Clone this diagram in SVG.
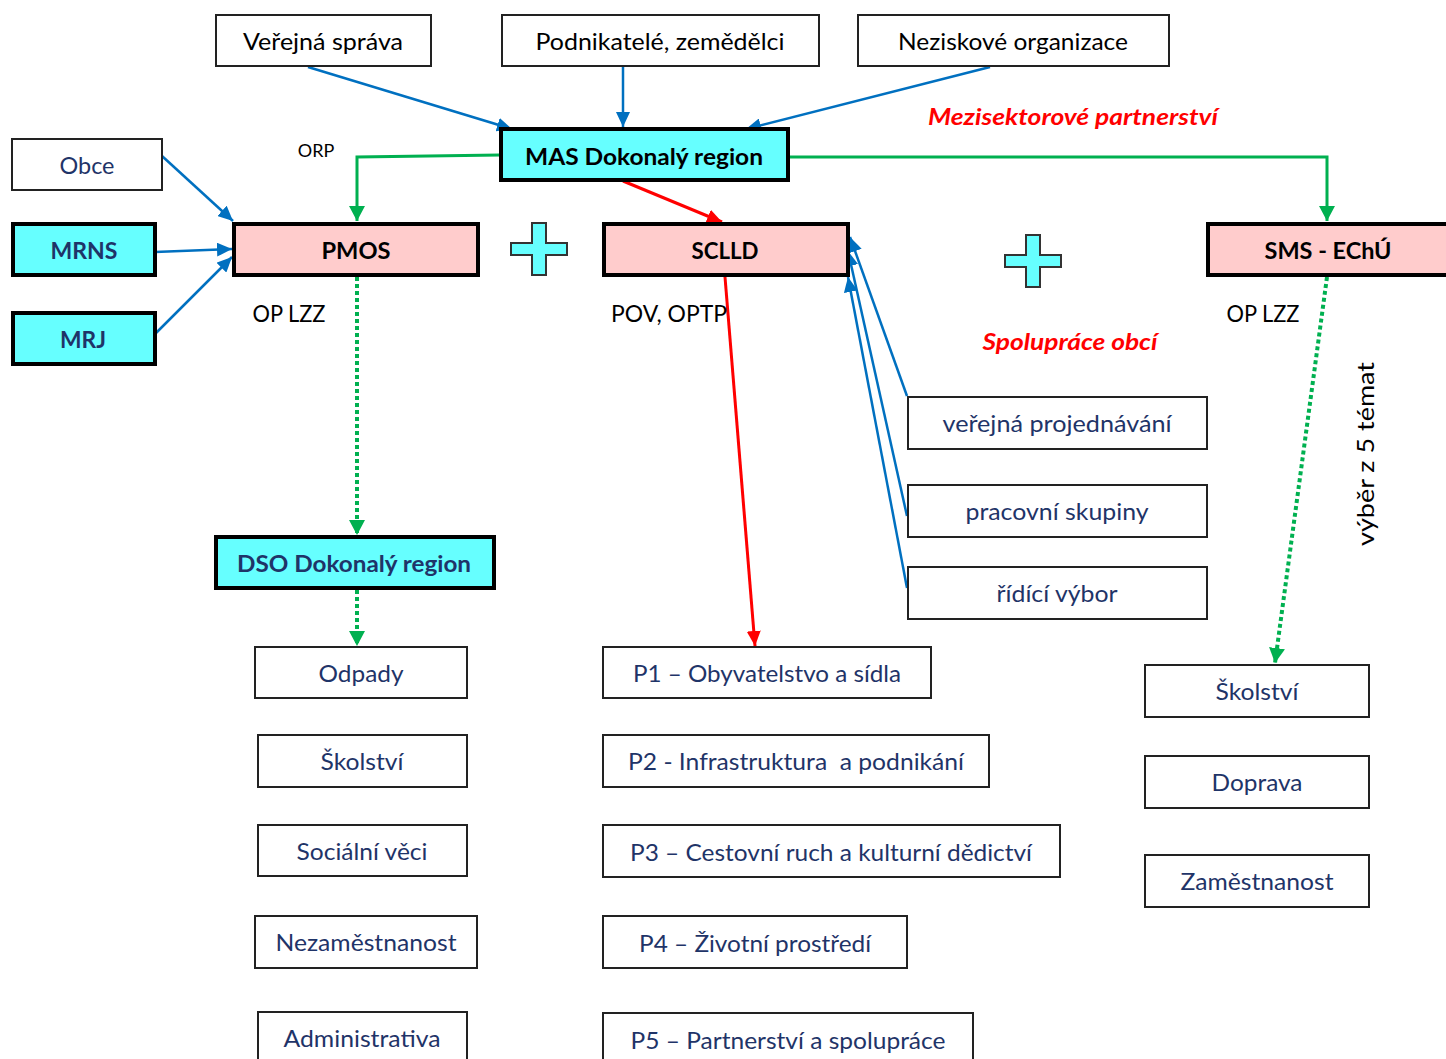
<svg xmlns="http://www.w3.org/2000/svg" width="1446" height="1059" viewBox="0 0 1446 1059">
<style>
.thin{fill:#fff;stroke:#222;stroke-width:2}
.cyan{fill:#66FFFF;stroke:#000;stroke-width:4}
.pink{fill:#FFCCCC;stroke:#000;stroke-width:4}
.plus{fill:#66FFFF;stroke:#333;stroke-width:2}
.t{font-family:Lato,"Open Sans","Liberation Sans",sans-serif;font-size:23px;text-anchor:middle}
.blk{fill:#000}
.nav{fill:#1F3468}
.b{font-weight:bold}
.red{fill:#FF0000;font-weight:bold;font-style:italic}
.small{font-size:18px}
.cb{fill:none;stroke:#0070C0;stroke-width:2.5}
.cg{fill:none;stroke:#00B050;stroke-width:3}
.cgd{fill:none;stroke:#00B050;stroke-width:4;stroke-dasharray:4 3}
.cr{fill:none;stroke:#FF0000;stroke-width:3}
</style>
<defs>
<marker id="ab" markerUnits="userSpaceOnUse" markerWidth="16" markerHeight="14" refX="15" refY="7" orient="auto"><path d="M0,0 L15,7 L0,14 Z" fill="#0070C0"/></marker>
<marker id="ag" markerUnits="userSpaceOnUse" markerWidth="16" markerHeight="16" refX="15" refY="8" orient="auto"><path d="M0,0 L15,8 L0,16 Z" fill="#00B050"/></marker>
<marker id="ar" markerUnits="userSpaceOnUse" markerWidth="16" markerHeight="14" refX="15" refY="7" orient="auto"><path d="M0,0 L15,7 L0,14 Z" fill="#FF0000"/></marker>
</defs>

<g id="connectors">
<line class="cb" x1="308" y1="67" x2="512" y2="129" marker-end="url(#ab)"/>
<line class="cb" x1="623" y1="67" x2="623" y2="127" marker-end="url(#ab)"/>
<line class="cb" x1="990" y1="67" x2="746" y2="129" marker-end="url(#ab)"/>
<polyline class="cg" points="500,155 357,157 357,221" marker-end="url(#ag)"/>
<polyline class="cg" points="788,157 1327,157 1327,221" marker-end="url(#ag)"/>
<line class="cr" x1="623" y1="181" x2="722" y2="222" marker-end="url(#ar)"/>
<line class="cb" x1="162" y1="156" x2="233" y2="221" marker-end="url(#ab)"/>
<line class="cb" x1="155" y1="252" x2="232" y2="249" marker-end="url(#ab)"/>
<line class="cb" x1="155" y1="334" x2="232" y2="257" marker-end="url(#ab)"/>
<line class="cgd" x1="357" y1="277" x2="357" y2="535" marker-end="url(#ag)"/>
<line class="cgd" x1="357" y1="590" x2="357" y2="646" marker-end="url(#ag)"/>
<line class="cr" x1="725" y1="277" x2="755" y2="646" marker-end="url(#ar)"/>
<line class="cb" x1="907" y1="396" x2="850" y2="237" marker-end="url(#ab)"/>
<line class="cb" x1="907" y1="516" x2="848" y2="251" marker-end="url(#ab)"/>
<line class="cb" x1="907" y1="588" x2="848" y2="277" marker-end="url(#ab)"/>
<line class="cgd" x1="1327" y1="277" x2="1275" y2="663" marker-end="url(#ag)"/>
</g>

<g id="verejna-sprava"><rect class="thin" x="216" y="15" width="215" height="51"/><text class="t blk" x="323" y="50" textLength="160" lengthAdjust="spacingAndGlyphs">Veřejná správa</text></g>
<g id="podnikatele"><rect class="thin" x="502" y="15" width="317" height="51"/><text class="t blk" x="660" y="50" textLength="249" lengthAdjust="spacingAndGlyphs">Podnikatelé, zemědělci</text></g>
<g id="neziskove"><rect class="thin" x="858" y="15" width="311" height="51"/><text class="t blk" x="1013" y="50" textLength="230" lengthAdjust="spacingAndGlyphs">Neziskové organizace</text></g>

<g id="mas"><rect class="cyan" x="501" y="129" width="287" height="51"/><text class="t blk b" x="644" y="165" textLength="238" lengthAdjust="spacingAndGlyphs">MAS Dokonalý region</text></g>

<g id="labels">
<text class="t blk small" x="316" y="157">ORP</text>
<text class="t red" x="1073" y="125" textLength="290" lengthAdjust="spacingAndGlyphs">Mezisektorové partnerství</text>
<text class="t blk" x="289" y="322" textLength="73" lengthAdjust="spacingAndGlyphs">OP LZZ</text>
<text class="t blk" x="669" y="322" textLength="116" lengthAdjust="spacingAndGlyphs">POV, OPTP</text>
<text class="t blk" x="1263" y="322" textLength="73" lengthAdjust="spacingAndGlyphs">OP LZZ</text>
<text class="t red" x="1070" y="350" textLength="175" lengthAdjust="spacingAndGlyphs">Spolupráce obcí</text>
<text class="t blk" transform="translate(1374,454) rotate(-90)" textLength="184" lengthAdjust="spacingAndGlyphs">výběr z 5 témat</text>
</g>

<g id="obce"><rect class="thin" x="12" y="139" width="150" height="51"/><text class="t nav" x="87" y="174" textLength="55" lengthAdjust="spacingAndGlyphs">Obce</text></g>
<g id="mrns"><rect class="cyan" x="13" y="224" width="142" height="51"/><text class="t nav b" x="84" y="259" textLength="67" lengthAdjust="spacingAndGlyphs">MRNS</text></g>
<g id="mrj"><rect class="cyan" x="13" y="313" width="142" height="51"/><text class="t nav b" x="83" y="348" textLength="46" lengthAdjust="spacingAndGlyphs">MRJ</text></g>

<g id="pmos"><rect class="pink" x="234" y="224" width="244" height="51"/><text class="t blk b" x="356" y="259" textLength="69" lengthAdjust="spacingAndGlyphs">PMOS</text></g>
<g id="plus1"><path class="plus" d="M532,223 H546 V243 H567 V255 H546 V275 H532 V255 H511 V243 H532 Z"/></g>
<g id="sclld"><rect class="pink" x="604" y="224" width="244" height="51"/><text class="t blk b" x="725" y="259" textLength="67" lengthAdjust="spacingAndGlyphs">SCLLD</text></g>
<g id="plus2"><path class="plus" d="M1026,235 H1040 V255 H1061 V267 H1040 V287 H1026 V267 H1005 V255 H1026 Z"/></g>
<g id="sms"><rect class="pink" x="1208" y="224" width="250" height="51"/><text class="t blk b" x="1328" y="259" textLength="127" lengthAdjust="spacingAndGlyphs">SMS - EChÚ</text></g>

<g id="verejna-projednavani"><rect class="thin" x="908" y="397" width="299" height="52"/><text class="t nav" x="1057" y="432" textLength="229" lengthAdjust="spacingAndGlyphs">veřejná projednávání</text></g>
<g id="pracovni-skupiny"><rect class="thin" x="908" y="485" width="299" height="52"/><text class="t nav" x="1057" y="520" textLength="183" lengthAdjust="spacingAndGlyphs">pracovní skupiny</text></g>
<g id="ridici-vybor"><rect class="thin" x="908" y="567" width="299" height="52"/><text class="t nav" x="1057" y="602" textLength="121" lengthAdjust="spacingAndGlyphs">řídící výbor</text></g>

<g id="dso"><rect class="cyan" x="216" y="537" width="278" height="51"/><text class="t nav b" x="354" y="572" textLength="234" lengthAdjust="spacingAndGlyphs">DSO Dokonalý region</text></g>

<g id="odpady"><rect class="thin" x="255" y="647" width="212" height="51"/><text class="t nav" x="361" y="682" textLength="85" lengthAdjust="spacingAndGlyphs">Odpady</text></g>
<g id="skolstvi-l"><rect class="thin" x="258" y="735" width="209" height="52"/><text class="t nav" x="362" y="770" textLength="83" lengthAdjust="spacingAndGlyphs">Školství</text></g>
<g id="socialni"><rect class="thin" x="258" y="825" width="209" height="51"/><text class="t nav" x="362" y="860" textLength="131" lengthAdjust="spacingAndGlyphs">Sociální věci</text></g>
<g id="nezamestnanost"><rect class="thin" x="255" y="916" width="222" height="52"/><text class="t nav" x="366" y="951" textLength="181" lengthAdjust="spacingAndGlyphs">Nezaměstnanost</text></g>
<g id="administrativa"><rect class="thin" x="258" y="1012" width="209" height="60"/><text class="t nav" x="362" y="1047" textLength="157" lengthAdjust="spacingAndGlyphs">Administrativa</text></g>

<g id="p1"><rect class="thin" x="603" y="647" width="328" height="51"/><text class="t nav" x="767" y="682" textLength="268" lengthAdjust="spacingAndGlyphs">P1 – Obyvatelstvo a sídla</text></g>
<g id="p2"><rect class="thin" x="603" y="735" width="386" height="52"/><text class="t nav" x="796" y="770" textLength="336" lengthAdjust="spacingAndGlyphs" xml:space="preserve">P2 - Infrastruktura  a podnikání</text></g>
<g id="p3"><rect class="thin" x="603" y="825" width="457" height="52"/><text class="t nav" x="831" y="861" textLength="402" lengthAdjust="spacingAndGlyphs">P3 – Cestovní ruch a kulturní dědictví</text></g>
<g id="p4"><rect class="thin" x="603" y="916" width="304" height="52"/><text class="t nav" x="755" y="952" textLength="232" lengthAdjust="spacingAndGlyphs">P4 – Životní prostředí</text></g>
<g id="p5"><rect class="thin" x="603" y="1013" width="370" height="60"/><text class="t nav" x="788" y="1049" textLength="315" lengthAdjust="spacingAndGlyphs">P5 – Partnerství a spolupráce</text></g>

<g id="skolstvi-r"><rect class="thin" x="1145" y="665" width="224" height="52"/><text class="t nav" x="1257" y="700" textLength="83" lengthAdjust="spacingAndGlyphs">Školství</text></g>
<g id="doprava"><rect class="thin" x="1145" y="756" width="224" height="52"/><text class="t nav" x="1257" y="791" textLength="91" lengthAdjust="spacingAndGlyphs">Doprava</text></g>
<g id="zamestnanost"><rect class="thin" x="1145" y="855" width="224" height="52"/><text class="t nav" x="1257" y="890" textLength="153" lengthAdjust="spacingAndGlyphs">Zaměstnanost</text></g>
</svg>
